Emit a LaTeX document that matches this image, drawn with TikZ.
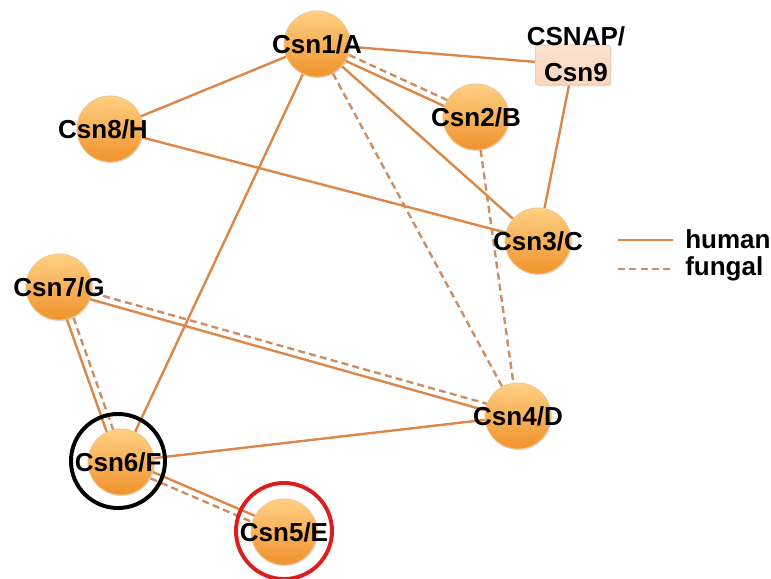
\documentclass[tikz,border=0pt]{standalone}
\usepackage{fontspec}
\setmainfont{Liberation Sans}
\usetikzlibrary{calc,backgrounds,shadows}
\definecolor{humanc}{RGB}{220,134,72}
\definecolor{fungalc}{RGB}{204,142,98}
\definecolor{balltop}{RGB}{255,208,132}
\definecolor{ballbot}{RGB}{240,146,44}
\definecolor{ballrim}{RGB}{238,196,140}
\definecolor{boxfill}{RGB}{250,214,188}
\definecolor{ringred}{RGB}{222,30,30}
\tikzstyle{subunit} = [circle, minimum size=1.65cm, inner sep=0pt, top color=balltop, bottom color=ballbot, draw=ballrim, line width=0.6pt, drop shadow={opacity=0.25, shadow xshift=0.6pt, shadow yshift=-0.8pt}]
\tikzstyle{ninebox} = [rectangle, rounded corners=2pt, minimum width=1.88cm, minimum height=1cm, top color=boxfill!70!white, bottom color=boxfill, draw=boxfill!80!brown, line width=0.4pt, drop shadow={opacity=0.25, shadow xshift=0.6pt, shadow yshift=-0.8pt}]
\tikzstyle{lbl} = [font=\fontsize{18.5}{25.6}\selectfont\bfseries, text=black, inner sep=0pt, align=center]
\tikzstyle{ring} = [circle, draw, line width=2.8pt, inner sep=0pt]
\tikzstyle{human} = [humanc, line width=1.7pt]
\tikzstyle{fungal} = [fungalc, line width=1.7pt, dash pattern=on 5pt off 3pt]

\begin{document}
\begin{tikzpicture}[x=0.025cm, y=-0.025cm]
	\useasboundingbox (0,0) rectangle (771,579);
	
	\node (a) [subunit, label={[lbl]center:Csn1/A}] at (317,44) {};
	\node (nine) [ninebox] at (573,65) {};
	\node (ninet) [lbl] at (576,54) {CSNAP/\\Csn9};
	\node (b) [subunit, label={[lbl]center:Csn2/B}] at (476,117) {};
	\node (h) [subunit, label={[lbl,xshift=-5pt]center:Csn8/H}] at (110,129) {};
	\node (c) [subunit, label={[lbl]center:Csn3/C}] at (538,241) {};
	\node (g) [subunit, label={[lbl]center:Csn7/G}] at (59,287) {};
	\node (d) [subunit, label={[lbl]center:Csn4/D}] at (518,416) {};
	\node (f) [subunit, label={[lbl,xshift=-2pt]center:Csn6/F}] at (121,462) {};
	\node (e) [subunit, label={[lbl]center:Csn5/E}] at (284,532) {};
	
	\node (ringf) [ring, black, minimum size=2.35cm] at (118,461) {};
	\node (ringe) [ring, ringred, minimum size=2.4cm] at (284,531) {};
	
	% legend
	\coordinate (hum0) at (618,240);
	\coordinate (hum1) at (673,240);
	\coordinate (fun0) at (618,269);
	\coordinate (fun1) at (673,269);
	\node (humt) [lbl, anchor=west] at (685,239) {human};
	\node (funt) [lbl, anchor=west] at (685,269) {fungal};
	\draw[human] (hum0) -- (hum1);
	\draw[fungal] (fun0) -- (fun1);
	
	\begin{scope}[on background layer]
	\draw[human] (a) -- (nine);
	\draw[human] (a) -- (h);
	\draw[human] (a) -- (c);
	\draw[human] (a) -- (f);
	\draw[fungal] (a) -- (d);
	\draw[human] (nine) -- (c);
	\draw[fungal] (b) -- (d);
	\draw[human] (h) -- (c);
	\draw[human] (f) -- (d);
	
	\draw[fungal] ($(a)!2.4pt!90:(b)$) -- ($(b)!2.4pt!-90:(a)$);
	\draw[human] ($(a)!2.4pt!-90:(b)$) -- ($(b)!2.4pt!90:(a)$);
	
	\draw[fungal] ($(g)!2.4pt!90:(d)$) -- ($(d)!2.4pt!-90:(g)$);
	\draw[human] ($(g)!2.4pt!-90:(d)$) -- ($(d)!2.4pt!90:(g)$);
	
	\draw[fungal] ($(g)!2.4pt!90:(f)$) -- ($(f)!2.4pt!-90:(g)$);
	\draw[human] ($(g)!2.4pt!-90:(f)$) -- ($(f)!2.4pt!90:(g)$);
	
	\draw[human] ($(f)!2.4pt!90:(e)$) -- ($(e)!2.4pt!-90:(f)$);
	\draw[fungal] ($(f)!2.4pt!-90:(e)$) -- ($(e)!2.4pt!90:(f)$);
	\end{scope}
	
\end{tikzpicture}
\end{document}
